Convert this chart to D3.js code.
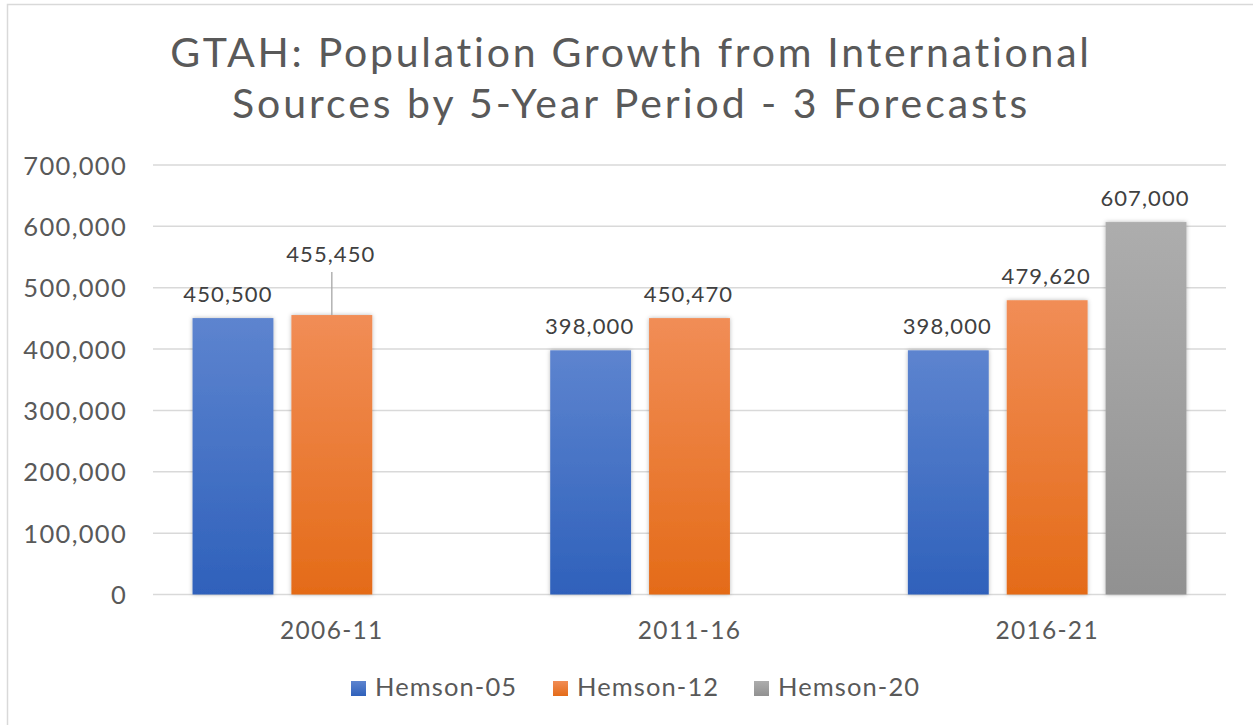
<!DOCTYPE html>
<html>
<head>
<meta charset="utf-8">
<script src="https://cdn.jsdelivr.net/npm/d3@7"></script>
<style>
  html, body { margin: 0; padding: 0; background: #fff; }
  svg { display: block; }
  text { font-family: Lato, "Open Sans", sans-serif; }
</style>
</head>
<body>
<svg id="chart" width="1253" height="725"></svg>
<script>
// Population growth from international sources, by 5-year period and forecast
const periods = ["2006-11", "2011-16", "2016-21"];
const seriesNames = ["Hemson-05", "Hemson-12", "Hemson-20"];
const hemson05 = [450500, 398000, 398000];
const hemson12 = [455450, 450470, 479620];
const hemson20 = [null, null, 607000];
const yTicks = [0, 100000, 200000, 300000, 400000, 500000, 600000, 700000];
const titleLines = ["GTAH: Population Growth from International", "Sources by 5-Year Period - 3 Forecasts"];

const seriesValues = [hemson05, hemson12, hemson20];
const gradients = [
  ["#5d84cf", "#2f61bb"],
  ["#f18d56", "#e46b18"],
  ["#adadad", "#919191"]
];

const svg = d3.select("#chart");
const margin = { left: 153, right: 1226, top: 165, bottom: 594.5 };

// outer frame
svg.append("rect")
  .attr("x", 7.5).attr("y", 4.5)
  .attr("width", 1253).attr("height", 730)
  .attr("fill", "#fff").attr("stroke", "#d9d9d9").attr("stroke-width", 1.5);

const defs = svg.append("defs");
gradients.forEach((g, i) => {
  const lg = defs.append("linearGradient")
    .attr("id", "grad" + i).attr("x1", 0).attr("y1", 0).attr("x2", 0).attr("y2", 1);
  lg.append("stop").attr("offset", "0%").attr("stop-color", g[0]);
  lg.append("stop").attr("offset", "100%").attr("stop-color", g[1]);
});
const shadow = defs.append("filter").attr("id", "shadow")
  .attr("x", "-20%").attr("y", "-5%").attr("width", "140%").attr("height", "110%");
shadow.append("feDropShadow")
  .attr("dx", 0).attr("dy", 0).attr("stdDeviation", 2.2)
  .attr("flood-color", "#000").attr("flood-opacity", 0.28);

// title, two lines, each stretched to its width with letter spacing
const titleWidths = [923, 798];
titleLines.forEach((t, i) => {
  const el = svg.append("text")
    .attr("x", 631).attr("y", 67 + i * 51)
    .attr("text-anchor", "middle")
    .attr("fill", "#595959")
    .attr("font-size", 41)
    .text(t);
  const w = el.node().getComputedTextLength();
  const n = t.length;
  el.attr("letter-spacing", ((titleWidths[i] - w) / n).toFixed(2));
});

const y = d3.scaleLinear().domain([0, 700000]).range([margin.bottom, margin.top]);
const x0 = d3.scaleBand().domain(periods).range([margin.left, margin.right]).paddingInner(0).paddingOuter(0);
const x1 = d3.scaleBand().domain(seriesNames).range([0, x0.bandwidth()]).paddingInner(0.182).paddingOuter(0.4);

// gridlines
svg.append("g")
  .selectAll("line").data(yTicks).join("line")
  .attr("x1", margin.left).attr("x2", margin.right)
  .attr("y1", d => y(d)).attr("y2", d => y(d))
  .attr("stroke", "#d9d9d9").attr("stroke-width", 1.5);

// y axis labels
const yAxis = d3.axisLeft(y).tickValues(yTicks).tickFormat(d3.format(",")).tickSize(0).tickPadding(0);
const ya = svg.append("g").attr("transform", "translate(127,0)").call(yAxis);
ya.select(".domain").remove();
ya.selectAll("text").attr("font-size", 25.5).attr("fill", "#595959").attr("letter-spacing", 1.3)
  .attr("font-family", "Lato, 'Open Sans', sans-serif").attr("dy", "0.36em");

// x axis labels
const xAxis = d3.axisBottom(x0).tickSize(0).tickPadding(0);
const xa = svg.append("g").attr("transform", `translate(0,${margin.bottom})`).call(xAxis);
xa.select(".domain").remove();
xa.selectAll("text").attr("font-size", 24.5).attr("fill", "#595959").attr("letter-spacing", 1.3)
  .attr("font-family", "Lato, 'Open Sans', sans-serif").attr("y", 0).attr("dy", 44);

// bars
const barData = [];
periods.forEach((p, pi) => {
  seriesNames.forEach((s, si) => {
    const v = seriesValues[si][pi];
    if (v != null) barData.push({ period: p, series: s, si, value: v });
  });
});

svg.append("g").selectAll("rect").data(barData).join("rect")
  .attr("x", d => x0(d.period) + x1(d.series))
  .attr("y", d => y(d.value))
  .attr("width", x1.bandwidth())
  .attr("height", d => y(0) - y(d.value))
  .attr("fill", d => `url(#grad${d.si})`)
  .attr("filter", "url(#shadow)");

// data labels (the 2006-11 Hemson-12 label is lifted with a leader line)
const fmt = d3.format(",");
const labelLift = d => (d.period === "2006-11" && d.series === "Hemson-12") ? 37 : 0;
const labelShift = d => (d.period === "2006-11" && d.series === "Hemson-05") ? -4 : 0;
const cx = d => x0(d.period) + x1(d.series) + x1.bandwidth() / 2;

svg.append("g").selectAll("line").data(barData.filter(d => labelLift(d) > 0)).join("line")
  .attr("x1", cx).attr("x2", cx)
  .attr("y1", d => y(d.value))
  .attr("y2", d => y(d.value) - 16 - labelLift(d) + 10)
  .attr("stroke", "#a6a6a6").attr("stroke-width", 1.3);

svg.append("g").selectAll("text").data(barData).join("text")
  .attr("x", d => cx(d) + labelShift(d) - 1)
  .attr("y", d => y(d.value) - 16 - labelLift(d))
  .attr("text-anchor", "middle")
  .attr("font-size", 22).attr("letter-spacing", 1.1).attr("fill", "#404040")
  .text(d => fmt(d.value));

// legend
const legendX = [351, 553, 754];
const lg = svg.append("g");
seriesNames.forEach((s, i) => {
  lg.append("rect").attr("x", legendX[i]).attr("y", 681).attr("width", 15).attr("height", 15)
    .attr("fill", `url(#grad${i})`);
  lg.append("text").attr("x", legendX[i] + 24).attr("y", 696)
    .attr("font-size", 25.5).attr("letter-spacing", 1.1).attr("fill", "#595959").text(s);
});
</script>
</body>
</html>
